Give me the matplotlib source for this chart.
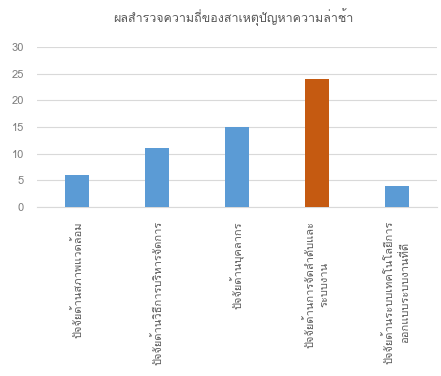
import matplotlib
matplotlib.use("Agg")
import matplotlib.pyplot as plt
from matplotlib import font_manager, ft2font

# pick an installed font that has Thai glyphs
thai_family = None
for f in font_manager.fontManager.ttflist:
    try:
        if 0x0E01 in ft2font.FT2Font(f.fname).get_charmap():
            thai_family = f.name
            break
    except Exception:
        pass
families = [thai_family, "DejaVu Sans"] if thai_family else ["DejaVu Sans"]
plt.rcParams["font.family"] = families

title = "ผลสำรวจความถี่ของสาเหตุปัญหาความล่าช้า"
categories = [
    "ปัจจัยด้านสภาพแวดล้อม",
    "ปัจจัยด้านวิธีการบริหารจัดการ",
    "ปัจจัยด้านบุคลากร",
    "ปัจจัยด้านการจัดลำดับและ\nระบบงาน",
    "ปัจจัยด้านระบบเทคโนโลยีการ\nออกแบบระบบงานที่ดี",
]
values = [6, 11, 15, 24, 4]
colors = ["#5B9BD5", "#5B9BD5", "#5B9BD5", "#C55A11", "#5B9BD5"]

fig = plt.figure(figsize=(4.41, 3.76), dpi=100)
ax = fig.add_axes([0.085, 0.449, 0.905, 0.426])
x = range(len(categories))
ax.bar(x, values, width=0.3, color=colors, zorder=3)
ax.set_ylim(0, 30)
ax.set_xlim(-0.5, len(categories) - 0.5)
ax.set_yticks(range(0, 31, 5))
ax.set_xticks(list(x))
ax.set_xticklabels(categories, rotation=90, va="top", ha="center",
                   multialignment="center", fontsize=8, color="#595959",
                   linespacing=1.5)
ax.tick_params(axis="y", length=0, labelsize=8, labelcolor="#7F7F7F", pad=10)
ax.tick_params(axis="x", length=0, pad=10)
ax.grid(axis="y", color="#D9D9D9", linewidth=0.8, zorder=0)
for s in ["top", "right", "left"]:
    ax.spines[s].set_visible(False)
ax.spines["bottom"].set_color("#D9D9D9")
fig.text(0.53, 0.955, title, ha="center", va="center", fontsize=9, color="#595959")

fig.savefig("out.png", dpi=100)
